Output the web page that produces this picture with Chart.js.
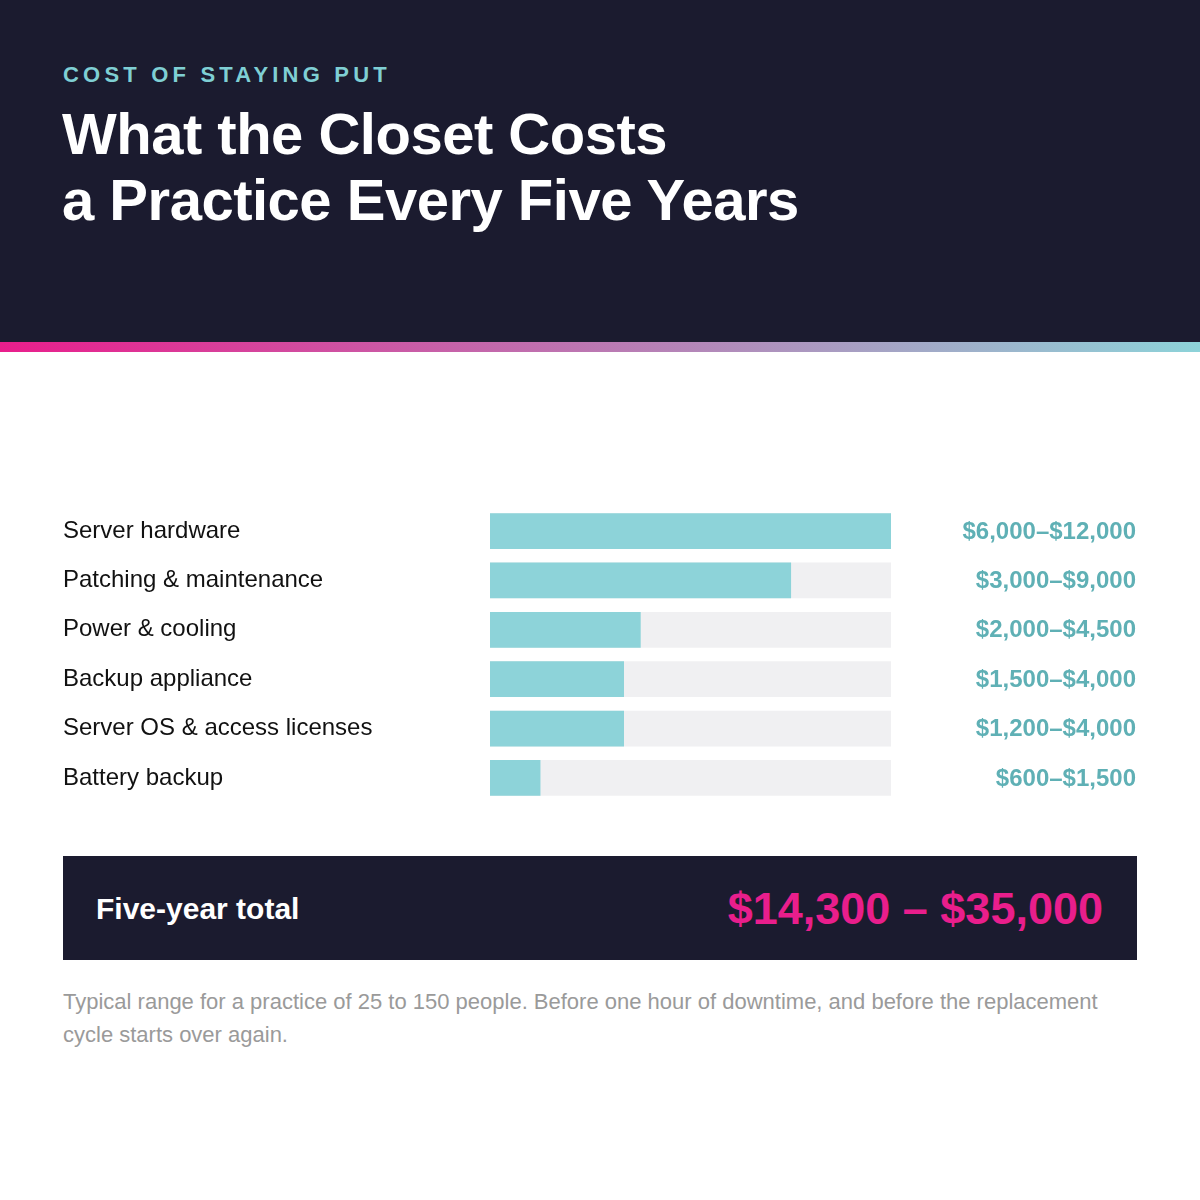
<!DOCTYPE html>
<html><head><meta charset="utf-8">
<script src="https://cdn.jsdelivr.net/npm/chart.js@4"></script>
<style>
body{margin:0;width:1200px;height:1200px;background:#fff;font-family:"Liberation Sans",Arial,sans-serif;position:relative;overflow:hidden}
#hdr{position:absolute;left:0;top:0;width:1200px;height:342px;background:#1b1b2f}
#grad{position:absolute;left:0;top:342px;width:1200px;height:10px;background:linear-gradient(90deg,#e91e8c,#8dd3d9)}
#sub{position:absolute;left:63px;top:62px;font-size:22px;font-weight:bold;letter-spacing:4.2px;color:#7fcfd4}
#title{position:absolute;left:62px;top:101px;font-size:58px;font-weight:bold;color:#fff;line-height:66px;letter-spacing:-0.5px}
#wrap{position:absolute;left:63px;top:492px;width:1074px;height:325px}
#tot{position:absolute;left:63px;top:856px;width:1074px;height:104px;background:#1b1b2f}
#tl{position:absolute;left:33px;top:36px;font-size:30px;font-weight:bold;color:#fff}
#tv{position:absolute;right:34px;top:27px;font-size:45px;font-weight:bold;color:#e91e8c}
#note{position:absolute;left:63px;top:985px;width:1080px;font-size:22px;line-height:33px;color:#9a9a9a}
</style></head><body>
<div id="hdr"></div><div id="grad"></div>
<div id="sub">COST OF STAYING PUT</div>
<div id="title">What the Closet Costs<br>a Practice Every Five Years</div>
<div id="wrap"><canvas id="c"></canvas></div>
<div id="tot"><div id="tl">Five-year total</div><div id="tv">$14,300 – $35,000</div></div>
<div id="note">Typical range for a practice of 25 to 150 people. Before one hour of downtime, and before the replacement cycle starts over again.</div>
<script>
const categories=["Server hardware","Patching & maintenance","Power & cooling","Backup appliance","Server OS & access licenses","Battery backup"];
const lowValues=[6000,3000,2000,1500,1200,600];
const highValues=[12000,9000,4500,4000,4000,1500];
const scaleMax=12000;
const rangeLabels=["$6,000–$12,000","$3,000–$9,000","$2,000–$4,500","$1,500–$4,000","$1,200–$4,000","$600–$1,500"];
const valLabels={id:'vl',afterDatasetsDraw(ch){const {ctx}=ch;const m=ch.getDatasetMeta(1);ctx.save();ctx.font='bold 24px "Liberation Sans",Arial';ctx.fillStyle='#5fb0b5';ctx.textAlign='right';ctx.textBaseline='middle';m.data.forEach((b,i)=>ctx.fillText(rangeLabels[i],ch.width-1,b.y+1));ctx.restore();}};
new Chart(document.getElementById('c'),{type:'bar',
data:{labels:categories,datasets:[
{data:categories.map(()=>scaleMax),backgroundColor:'#f0f0f2',order:2,barThickness:35,grouped:false},
{data:highValues,backgroundColor:'#8dd3d9',order:1,barThickness:35,grouped:false}]},
options:{indexAxis:'y',responsive:true,maintainAspectRatio:false,animation:false,
layout:{padding:{right:246,top:0,bottom:0,left:0}},
plugins:{legend:{display:false},tooltip:{enabled:false}},
scales:{x:{display:false,min:0,max:scaleMax},
y:{grid:{display:false},border:{display:false},afterFit(s){s.width=427;},
ticks:{crossAlign:'far',padding:0,color:'#111',font:{size:24,family:'"Liberation Sans",Arial'}}}}},
plugins:[valLabels]});
</script></body></html>
